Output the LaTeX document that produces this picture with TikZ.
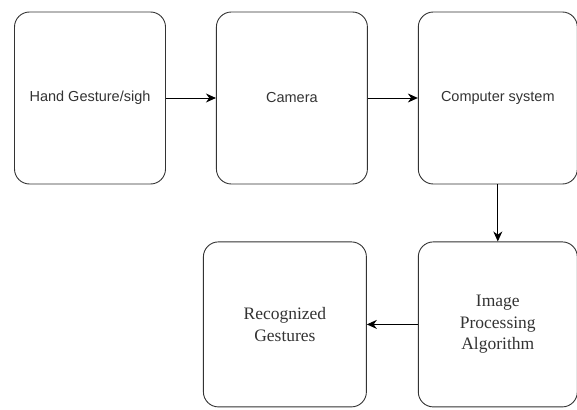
\documentclass[tikz,border=0pt]{standalone}
\usepackage{fontspec}
\setmainfont{Liberation Serif}
\setsansfont{Liberation Sans}
\usetikzlibrary{arrows.meta,positioning}
\definecolor{linegray}{HTML}{333333}
\tikzset{main base/.style={draw=linegray,line width=0.9pt,text=linegray,text centered, }, }
\tikzset{main node/.style={rectangle, draw,rounded corners=15pt,main base,
    minimum width=151pt, minimum height=172pt,
    font=\sffamily\fontsize{14.5}{17.5}\selectfont}, }
\tikzset{main node2/.style={main node, minimum width=159pt, minimum height=165pt,
    align=center, font=\rmfamily\fontsize{17.5}{21.7}\selectfont}, }
\tikzset{linea/.style={-{Stealth[length=10pt,width=9pt]},line width=0.9pt,draw=black}}

\begin{document}
\begin{tikzpicture}
  \useasboundingbox (0,0) rectangle (577pt,-409pt);
    \node[main node] (1) at (90pt,-98pt) {Hand Gesture/sigh};
    \node[main node] (2) [right=50pt of 1] {Camera};
    \node[main node, minimum width=159pt] (3) [right=50pt of 2] {Computer system};
%
    \node[main node2] (4) [below=57pt of 3] {Image\\Processing\\Algorithm};
    \node[main node2, minimum width=163pt] (5) [left=51pt of 4] {Recognized\\Gestures};

\foreach \x /\y in{1/2,2/3,3/4,4/5}
  \path[linea] (\x) edge node {} (\y);
%
\end{tikzpicture}
\end{document}
